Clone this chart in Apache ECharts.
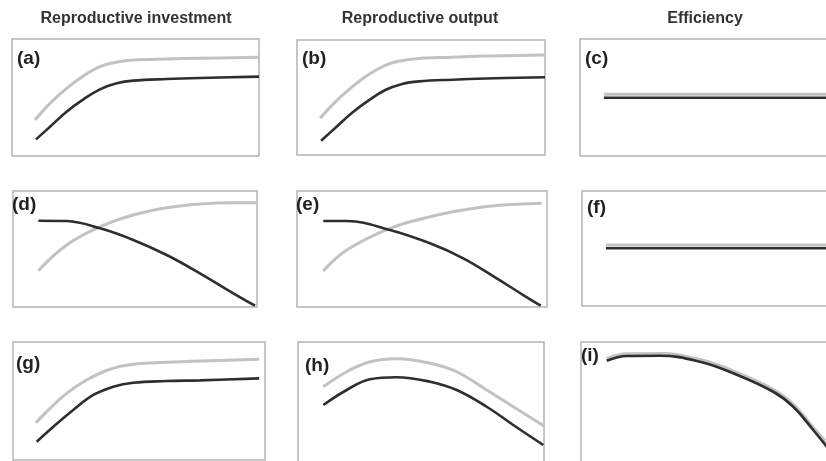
<!DOCTYPE html>
<html>
<head>
<meta charset="utf-8">
<script src="https://cdn.jsdelivr.net/npm/echarts@6/dist/echarts.min.js"></script>
<style>html,body{margin:0;padding:0;background:#fff;}#chart{width:826px;height:461px;}</style>
</head>
<body>
<div id="chart"></div>
<script>
// Column headings
const columnTitles = ['Reproductive investment', 'Reproductive output', 'Efficiency'];
const panelLabels = ['(a)', '(b)', '(c)', '(d)', '(e)', '(f)', '(g)', '(h)', '(i)'];

// Curves: [x, y] in relative units (0-100) for each panel; gray = light curve, black = dark curve
const aGray  = [[9.3,30.8],[15.4,45],[22.1,57.8],[28.9,68.4],[35.6,76.3],[41,79.7],[49.1,82],[62.6,82.9],[76.1,83.5],[100,84.3]];
const aBlack = [[9.7,14.2],[15.4,25],[22.1,37.9],[28.9,48.4],[35.6,57],[42.4,62.1],[49.1,64.4],[62.6,65.8],[76.1,66.7],[100,67.8]];
const bGray  = [[9.3,31.9],[15.4,46],[22.1,59],[28.9,70],[35.6,78],[41,81.5],[49.1,84],[62.6,85],[76.1,86],[100,87]];
const bBlack = [[9.7,12.4],[15.4,23.5],[22.1,36.5],[28.9,47.5],[35.6,56.5],[42.4,61.8],[49.1,64],[62.6,65.5],[76.1,66.5],[100,67.6]];
const cGray  = [[9.2,52.7],[100,52.7]];
const cBlack = [[9.2,49.8],[100,49.8]];
const dGray  = [[10.4,31.3],[22,53.4],[35.7,69.2],[49.3,79.3],[63,85.6],[76.6,88.8],[90.3,89.9],[99.6,89.9]];
const dBlack = [[10.4,74.4],[22,74.1],[35.7,67.8],[49.3,57.8],[63,44.8],[76.6,29],[90.3,11.8],[99.2,1.1]];
const eGray  = [[10.5,31],[19.9,49.1],[37.2,67.8],[53.2,77.8],[66.5,83.6],[79.9,87.4],[97.9,89.4]];
const eBlack = [[10.5,74.1],[19.9,74.1],[37.2,66.4],[53.2,54.9],[66.5,42],[79.9,24.7],[90.5,10.3],[97.5,1.1]];
const fGray  = [[9.2,53],[100,53]];
const fBlack = [[9.2,50.2],[100,50.2]];
const gGray  = [[9.1,31.6],[14.7,43.8],[21.3,56.5],[29.2,67.8],[38.5,76.9],[47.7,81.1],[61,82.8],[74.2,83.9],[97.7,85.3]];
const gBlack = [[9.4,15.5],[16,28.2],[23.9,42.4],[31.9,55.1],[39.8,62.1],[47.7,65.5],[61,66.9],[74.2,67.5],[97.7,69.2]];
const hGray  = [[10.3,64.2],[19.8,76.2],[29.3,84.2],[40.1,86.6],[53.7,83],[64.5,76.2],[76.7,61.6],[87.5,48.2],[100,32.8]];
const hBlack = [[10.3,49.6],[19.8,61.6],[29.3,70.2],[40.1,71.8],[53.7,68.2],[64.5,61.6],[76.7,48.2],[87.5,33.6],[99.7,17.6]];
const iGray  = [[10.3,86.2],[18.3,90],[31.6,90.2],[47.6,85.4],[60.9,76.3],[76.9,61.5],[84.9,49.4],[92.9,30.8],[99,16.5]];
const iBlack = [[10.3,85],[18.3,88.8],[31.6,89],[47.6,84.2],[60.9,75],[76.9,60.2],[84.9,48.2],[92.9,29.6],[98.3,16.2]];

const panelData = [
  [aGray, aBlack], [bGray, bBlack], [cGray, cBlack],
  [dGray, dBlack], [eGray, eBlack], [fGray, fBlack],
  [gGray, gBlack], [hGray, hBlack], [iGray, iBlack]
];

// layout (pixels)
const gridBoxes = [
  {left: 12, top: 39, width: 247, height: 117},
  {left: 297, top: 40, width: 248, height: 115},
  {left: 580, top: 39, width: 260, height: 117},
  {left: 13, top: 191, width: 244, height: 116},
  {left: 297, top: 191, width: 250, height: 116},
  {left: 582, top: 191, width: 260, height: 115},
  {left: 13, top: 342, width: 252, height: 118},
  {left: 298, top: 342, width: 246, height: 125},
  {left: 581, top: 342, width: 250, height: 125}
];
const labelPos = [[17,49],[302,49],[585,49],[12,195],[296,195],[587,198],[16,354],[305,356],[581,346]];
const titlePos = [[136,19],[420,19],[705,19]];
const isFlat = [false,false,true,false,false,true,false,false,false];

const grids = [], xAxes = [], yAxes = [], series = [];
gridBoxes.forEach((g, i) => {
  grids.push(Object.assign({show: true, borderColor: '#b4b4b4', borderWidth: 1.5, backgroundColor: '#fff',
    containLabel: false, outerBoundsMode: 'none'}, g));
  xAxes.push({type: 'value', gridIndex: i, min: 0, max: 100, show: false});
  yAxes.push({type: 'value', gridIndex: i, min: 0, max: 100, show: false});
  const [gray, black] = panelData[i];
  const flat = isFlat[i];
  series.push({type: 'line', xAxisIndex: i, yAxisIndex: i, data: gray, smooth: 0.4, symbol: 'none', clip: false, silent: true,
    lineStyle: {color: '#c2c2c2', width: i === 8 ? 4.5 : 3}});
  series.push({type: 'line', xAxisIndex: i, yAxisIndex: i, data: black, smooth: 0.4, symbol: 'none', clip: false, silent: true,
    lineStyle: {color: '#2e2e2e', width: flat ? 2.5 : 2.6}});
});

const graphics = [];
columnTitles.forEach((t, k) => {
  graphics.push({type: 'text', x: titlePos[k][0], y: titlePos[k][1], z: 100,
    style: {text: t, textAlign: 'center', textVerticalAlign: 'middle', fill: '#333',
      font: 'bold 16px "Liberation Sans", Arial, sans-serif'}});
});
panelLabels.forEach((t, k) => {
  graphics.push({type: 'text', x: labelPos[k][0], y: labelPos[k][1], z: 100,
    style: {text: t, textAlign: 'left', textVerticalAlign: 'top', fill: '#222',
      font: 'bold 19px "Liberation Sans", Arial, sans-serif'}});
});

const chart = echarts.init(document.getElementById('chart'), null, {renderer: 'canvas'});
chart.setOption({
  animation: false,
  backgroundColor: '#fff',
  grid: grids,
  xAxis: xAxes,
  yAxis: yAxes,
  series: series,
  graphic: graphics
});
</script>
</body>
</html>
